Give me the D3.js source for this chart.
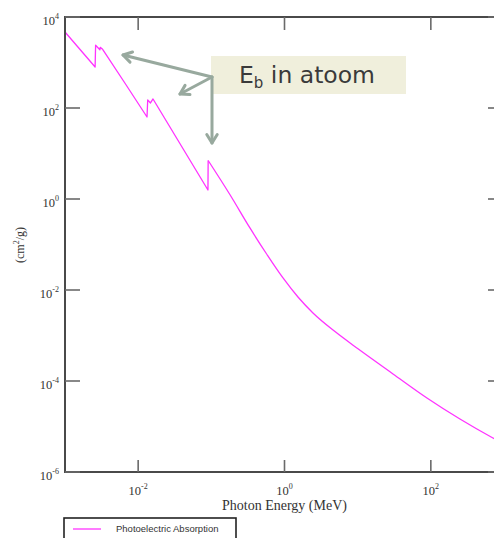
<!DOCTYPE html>
<html>
<head>
<meta charset="utf-8">
<script src="https://cdn.jsdelivr.net/npm/d3@7"></script>
<style>
  html, body { margin: 0; padding: 0; background: #ffffff; }
  svg { display: block; }
</style>
</head>
<body>
<svg id="chart" width="494" height="538"></svg>
<script>
// ---- data ----
// absorption edges region (drawn with straight segments)
const edgeEnergyMeV = [0.001, 0.00258, 0.00262, 0.00300, 0.00303, 0.00327, 0.00661, 0.01321, 0.01350, 0.01474, 0.01596,
                       0.0899, 0.0905];
const edgeMassAtten = [4680, 796, 2400, 1900, 2150, 1950, 350, 63.4, 150, 129, 158,
                       1.58, 7.02];
// smooth high-energy tail
const tailEnergyMeV = [0.0905, 0.180, 0.337, 0.558, 0.954, 1.528, 2.45, 4.90, 10.1, 30.4, 88.5, 250, 706, 1000];
const tailMassAtten = [7.02, 1.24, 0.231, 0.0650, 0.0184, 0.00702, 0.00313, 0.00122, 5.1e-4, 1.43e-4, 4.23e-5, 1.46e-5, 5.58e-6, 4.12e-6];
const xTickValues = [1e-2, 1e0, 1e2];
const xTickExps = ["-2", "0", "2"];
const yTickValues = [1e4, 1e2, 1e0, 1e-2, 1e-4, 1e-6];
const yTickExps = ["4", "2", "0", "-2", "-4", "-6"];
const xTitle = "Photon Energy (MeV)";
const legendLabel = "Photoelectric Absorption";
const noteText = ["E", "b", " in atoom"];

const svg = d3.select("#chart");
const L = 65, R = 504, T = 17, B = 472;
const x = d3.scaleLog().domain([1e-3, 1e3]).range([L, R]);
const y = d3.scaleLog().domain([1e-6, 1e4]).range([B, T]);
const axisColor = "#4a4a4a";
const serif = "'Liberation Serif', 'Times New Roman', serif";
const curveColor = "#ff33ff";

// curve
const edgePts = edgeEnergyMeV.map((e, i) => [e, edgeMassAtten[i]]);
const tailPts = tailEnergyMeV.map((e, i) => [e, tailMassAtten[i]]);
svg.append("path")
  .datum(edgePts)
  .attr("fill", "none").attr("stroke", curveColor).attr("stroke-width", 1.3).attr("stroke-linejoin", "round")
  .attr("d", d3.line().x(d => x(d[0])).y(d => y(d[1])));
svg.append("path")
  .datum(tailPts)
  .attr("fill", "none").attr("stroke", curveColor).attr("stroke-width", 1.3)
  .attr("d", d3.line().curve(d3.curveMonotoneX).x(d => x(d[0])).y(d => y(d[1])));

// frame
svg.append("rect").attr("x", L).attr("y", T).attr("width", R - L).attr("height", B - T)
  .attr("fill", "none").attr("stroke", axisColor).attr("stroke-width", 2);

// ticks (inward on all sides)
const g = svg.append("g").attr("stroke", "#6a6a6a").attr("stroke-width", 1.6);
xTickValues.forEach(v => {
  g.append("line").attr("x1", x(v)).attr("x2", x(v)).attr("y1", B).attr("y2", B - 12);
  g.append("line").attr("x1", x(v)).attr("x2", x(v)).attr("y1", T).attr("y2", T + 13);
});
yTickValues.forEach(v => {
  g.append("line").attr("x1", L).attr("x2", L + 15).attr("y1", y(v)).attr("y2", y(v));
  g.append("line").attr("x1", R).attr("x2", R - 16).attr("y1", y(v)).attr("y2", y(v));
});

// tick labels
function powLabel(sel, exp) {
  sel.append("tspan").text("10");
  sel.append("tspan").attr("font-size", 8).attr("dy", -6).text(exp);
}
yTickValues.forEach((v, i) => {
  const t = svg.append("text").attr("x", 59).attr("y", y(v) + 8)
    .attr("text-anchor", "end").attr("font-family", serif).attr("font-size", 12.5).attr("fill", "#333");
  powLabel(t, yTickExps[i]);
});
xTickValues.forEach((v, i) => {
  const t = svg.append("text").attr("x", x(v)).attr("y", 495)
    .attr("text-anchor", "middle").attr("font-family", serif).attr("font-size", 12.5).attr("fill", "#333");
  powLabel(t, xTickExps[i]);
});

// axis titles
svg.append("text").attr("x", x(1)).attr("y", 510).attr("text-anchor", "middle")
  .attr("font-family", serif).attr("font-size", 14).attr("fill", "#333").text(xTitle);
const yt = svg.append("text").attr("transform", "translate(24,245) rotate(-90)")
  .attr("text-anchor", "middle").attr("font-family", serif).attr("font-size", 12).attr("fill", "#333");
yt.append("tspan").text("(cm");
yt.append("tspan").attr("font-size", 8).attr("dy", -5).text("2");
yt.append("tspan").attr("dy", 5).text("/g)");

// legend
svg.append("rect").attr("x", 64).attr("y", 518).attr("width", 172).attr("height", 40)
  .attr("fill", "#fff").attr("stroke", "#222").attr("stroke-width", 1.6);
svg.append("line").attr("x1", 73).attr("x2", 101).attr("y1", 529).attr("y2", 529)
  .attr("stroke", curveColor).attr("stroke-width", 1.3);
svg.append("text").attr("x", 116).attr("y", 532)
  .attr("font-family", "'Liberation Sans', Arial, sans-serif").attr("font-size", 9.5).attr("fill", "#333")
  .text(legendLabel);

// annotation box
svg.append("rect").attr("x", 211).attr("y", 56).attr("width", 195).attr("height", 38).attr("fill", "#f0efdc");
const nt = svg.append("text").attr("x", 239).attr("y", 83)
  .attr("font-family", "'DejaVu Sans', sans-serif").attr("font-size", 23.5).attr("fill", "#3a3a3a");
nt.append("tspan").text(noteText[0]);
nt.append("tspan").attr("font-size", 15).attr("dy", 5).text(noteText[1]);
nt.append("tspan").attr("dy", -5).text(noteText[2]);

// arrows
const arrowColor = "#98a99e";
const origin = [212, 77];
const tips = [[123, 55], [180, 94], [212, 143]];
const ag = svg.append("g").attr("stroke", arrowColor).attr("stroke-width", 3)
  .attr("stroke-linecap", "round").attr("fill", "none");
tips.forEach(tp => {
  ag.append("line").attr("x1", origin[0]).attr("y1", origin[1]).attr("x2", tp[0]).attr("y2", tp[1]);
  const ang = Math.atan2(origin[1] - tp[1], origin[0] - tp[0]);
  const len = 10, spread = 0.55;
  const p1 = [tp[0] + len * Math.cos(ang + spread), tp[1] + len * Math.sin(ang + spread)];
  const p2 = [tp[0] + len * Math.cos(ang - spread), tp[1] + len * Math.sin(ang - spread)];
  ag.append("path").attr("d", `M${p1[0]},${p1[1]}L${tp[0]},${tp[1]}L${p2[0]},${p2[1]}`)
    .attr("stroke-linejoin", "round");
});
</script>
</body>
</html>
